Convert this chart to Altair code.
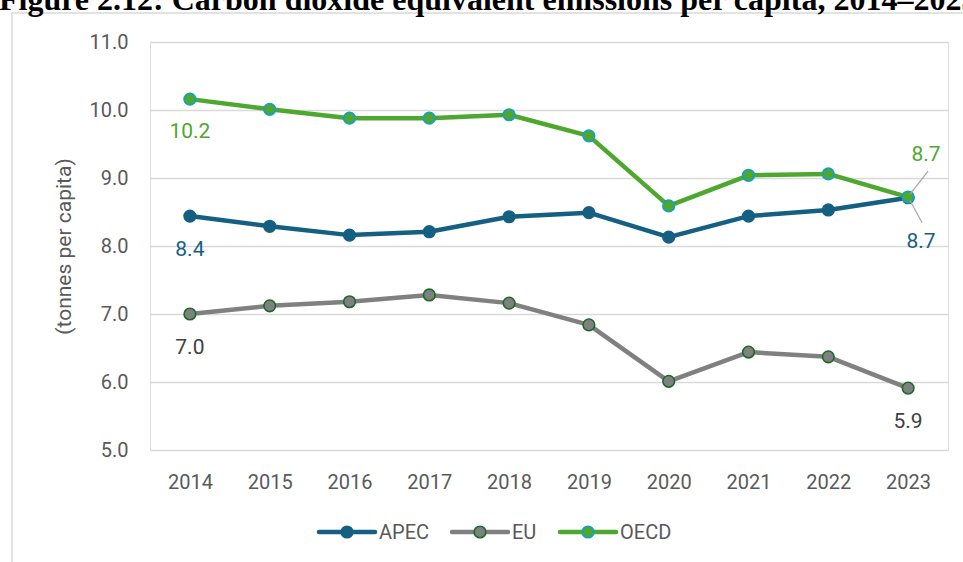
import altair as alt
import pandas as pd

years = ["2014", "2015", "2016", "2017", "2018", "2019", "2020", "2021", "2022", "2023"]
apec = [8.44, 8.29, 8.16, 8.21, 8.43, 8.49, 8.13, 8.44, 8.53, 8.71]
eu = [7.00, 7.12, 7.18, 7.28, 7.16, 6.84, 6.01, 6.44, 6.37, 5.91]
oecd = [10.16, 10.01, 9.88, 9.88, 9.93, 9.62, 8.59, 9.04, 9.06, 8.72]
series = ["APEC", "EU", "OECD"]
line_colors = ["#156082", "#808080", "#4EA72E"]
marker_fill = ["#156082", "#808080", "#4EA72E"]
marker_stroke = ["#156082", "#196B24", "#0F9ED5"]
label_colors = ["#156082", "#404040", "#4EA72E"]
title_text = "Figure 2.12: Carbon dioxide equivalent emissions per capita, 2014\u20132023"
y_title = "(tonnes per capita)"

rows = []
for name, vals in zip(series, [apec, eu, oecd]):
    for yr, v in zip(years, vals):
        rows.append({"year": yr, "series": name, "value": v})
df = pd.DataFrame(rows)

FONT = "Roboto"
W, H = 798, 408

x_scale = alt.Scale(type="point", domain=years, padding=0.5)
x_enc = alt.X("year:N", sort=years, scale=x_scale,
              axis=alt.Axis(title=None, labelAngle=0, domain=False, ticks=False, grid=False,
                            labelFont=FONT, labelFontSize=20, labelColor="#595959", labelPadding=22))
y_enc = alt.Y("value:Q", scale=alt.Scale(domain=[5, 11], nice=False, zero=False),
              axis=alt.Axis(title=y_title, values=[5, 6, 7, 8, 9, 10, 11], format=".1f",
                            domain=False, ticks=False, gridColor="#d9d9d9", gridWidth=1.5,
                            labelFont=FONT, labelFontSize=20, labelColor="#595959", labelPadding=22,
                            titleFont=FONT, titleFontSize=21, titleFontWeight="normal", titleColor="#595959",
                            titleX=-86, titleY=204, titleAngle=270, titleAlign="center", titleBaseline="middle"))

base = alt.Chart(df)
xs = alt.X("year:N", sort=years, scale=x_scale)

lines = base.mark_line(strokeWidth=4.5, strokeCap="round", strokeJoin="round").encode(
    x=x_enc, y=y_enc,
    color=alt.Color("series:N", scale=alt.Scale(domain=series, range=line_colors), legend=None),
)

points = base.mark_point(filled=True, size=135, strokeWidth=1.6, opacity=1).encode(
    x=xs, y="value:Q",
    fill=alt.Fill("series:N", scale=alt.Scale(domain=series, range=marker_fill), legend=None),
    stroke=alt.Stroke("series:N", scale=alt.Scale(domain=series, range=marker_stroke), legend=None),
)

# leader lines for last-year labels
leader_oecd = base.mark_rule(color="#a6a6a6", strokeWidth=1.2, xOffset=2, yOffset=-3, x2Offset=20, y2Offset=-26).encode(
    x=xs, y="value:Q", x2="year:N", y2="value:Q"
).transform_filter("datum.series == 'OECD' && datum.year == '2023'")
leader_apec = base.mark_rule(color="#a6a6a6", strokeWidth=1.2, xOffset=2, yOffset=3, x2Offset=14, y2Offset=25).encode(
    x=xs, y="value:Q", x2="year:N", y2="value:Q"
).transform_filter("datum.series == 'APEC' && datum.year == '2023'")

label_specs = [
    ("OECD", "2014", 0, 33), ("APEC", "2014", 0, 34), ("EU", "2014", 0, 34),
    ("OECD", "2023", 18, -42), ("APEC", "2023", 13, 44), ("EU", "2023", 0, 34),
]
labels = []
for s, yr, dx, dy in label_specs:
    col = label_colors[series.index(s)]
    labels.append(
        base.mark_text(font=FONT, fontSize=21, color=col, dx=dx, dy=dy, baseline="middle", align="center").encode(
            x=xs, y="value:Q", text=alt.Text("value:Q", format=".1f")
        ).transform_filter(f"datum.series == '{s}' && datum.year == '{yr}'")
    )

# custom legend
leg = []
leg_pos = [(169, 225, 197, 229), (302, 358, 330, 362), (410, 466, 438, 470)]
LY = 490
for i, s in enumerate(series):
    x1, x2, xm, xt = leg_pos[i]
    leg.append(alt.Chart(pd.DataFrame({"s": [s]})).mark_rule(strokeWidth=4.5, strokeCap="round", color=line_colors[i]).encode(
        x=alt.value(x1), x2=alt.value(x2), y=alt.value(LY)))
    leg.append(alt.Chart(pd.DataFrame({"s": [s]})).mark_point(filled=True, size=135, strokeWidth=1.6, opacity=1,
                                                           fill=marker_fill[i], stroke=marker_stroke[i]).encode(
        x=alt.value(xm), y=alt.value(LY)))
    leg.append(alt.Chart(pd.DataFrame({"s": [s]})).mark_text(font=FONT, fontSize=20, color="#595959", align="left",
                                                          baseline="middle").encode(
        x=alt.value(xt), y=alt.value(LY + 1), text="s:N"))

frame = alt.Chart(pd.DataFrame({"a": [0]})).mark_rect(fill=None, fillOpacity=0, stroke="#d9d9d9", strokeWidth=1.5).encode(
    x=alt.value(-138), x2=alt.value(1000), y=alt.value(-29), y2=alt.value(600))

title = alt.Chart(pd.DataFrame({"t": [title_text]})).mark_text(
    font="Liberation Serif", fontSize=32, fontWeight="bold", color="#000000", align="left", baseline="alphabetic"
).encode(x=alt.value(-151), y=alt.value(-32), text="t:N")

chart = alt.layer(frame, title, lines, points, leader_oecd, leader_apec, *labels, *leg).properties(
    width=W, height=H,
    padding={"left": 150, "right": 15, "top": 42, "bottom": 112},
    autosize=alt.AutoSizeParams(type="none"),
).configure_view(stroke=None).configure(background="white")

chart.save("out.html", embed_options={"renderer": "svg", "actions": False})
